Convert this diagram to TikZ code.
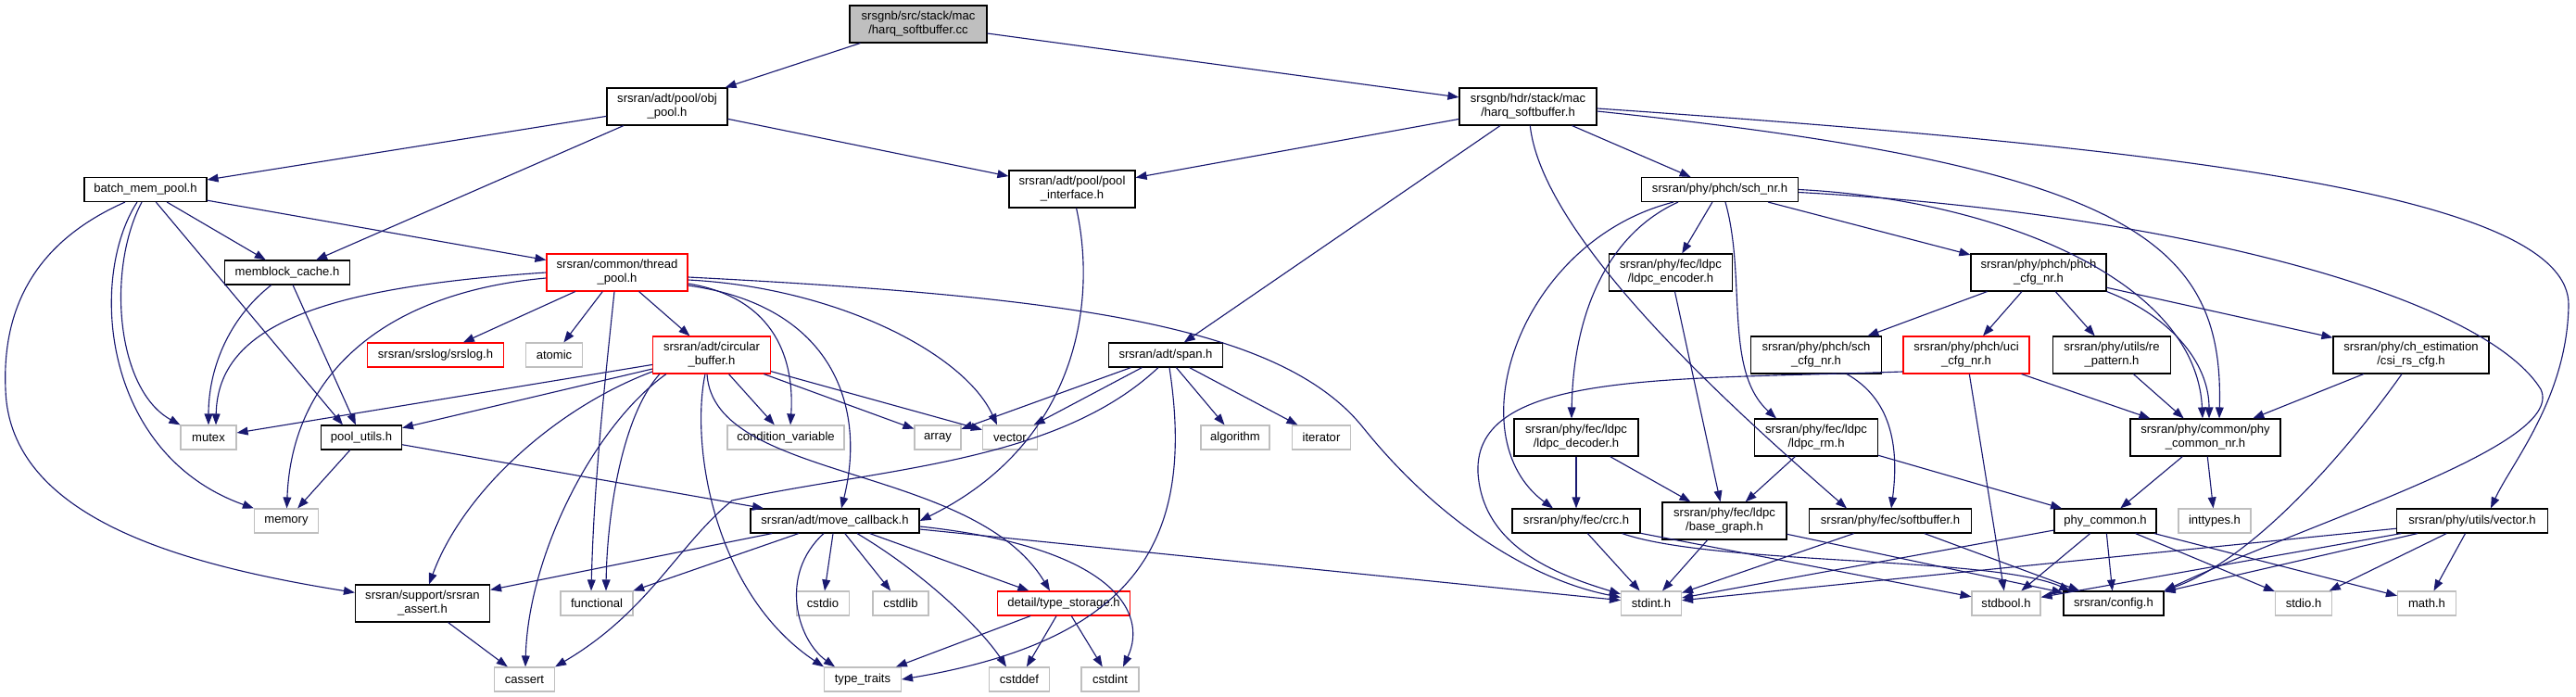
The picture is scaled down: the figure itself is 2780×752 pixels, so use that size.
\documentclass[tikz,border=0pt]{standalone}
\usepackage{fontspec}
\setmainfont{Liberation Sans}
\usetikzlibrary{arrows.meta,calc,positioning}
\definecolor{edgeblue}{RGB}{25,25,112}
\definecolor{boxgray}{RGB}{191,191,191}
\tikzset{
  file/.style={draw=black, line width=0.8pt, fill=white, inner sep=0pt, align=center,
    font=\fontsize{9.3}{10.6}\selectfont},
  sysfile/.style={file, draw=boxgray},
  cutfile/.style={file, draw=red},
  rootfile/.style={file, fill=boxgray},
  boxsize/.style 2 args={minimum width=#1*0.25mm, minimum height=#2*0.25mm},
  dep/.style={-{Triangle[length=3mm, width=2.2mm]}, edgeblue, line width=0.8pt},
}

\begin{document}
\begin{tikzpicture}[x=0.25mm, y=-0.25mm]
  \useasboundingbox (0,0) rectangle (2780,752);

  % Files, row by row
  \node[rootfile, boxsize={148}{40}] (root) at (991,26) {srsgnb/src/stack/mac\\/harq\_softbuffer.cc};
  \node[file, boxsize={130}{40}] (objpool) at (720,115) {srsran/adt/pool/obj\\\_pool.h};
  \node[file, boxsize={148}{40}] (harqh) at (1649,115) {srsgnb/hdr/stack/mac\\/harq\_softbuffer.h};

  \node[file, boxsize={132}{26}] (batch) at (157,204.5) {batch\_mem\_pool.h};
  \node[file, boxsize={136}{40}] (poolif) at (1157,204) {srsran/adt/pool/pool\\\_interface.h};
  \node[file, boxsize={169}{26}] (schnr) at (1856,204.5) {srsran/phy/phch/sch\_nr.h};

  \node[file, boxsize={135}{26}] (memblock) at (310,294) {memblock\_cache.h};
  \node[cutfile, boxsize={152}{40}] (threadpool) at (666,294) {srsran/common/thread\\\_pool.h};
  \node[file, boxsize={133}{40}] (ldpcenc) at (1803,294) {srsran/phy/fec/ldpc\\/ldpc\_encoder.h};
  \node[file, boxsize={146}{40}] (phchcfg) at (2200,294) {srsran/phy/phch/phch\\\_cfg\_nr.h};

  \node[cutfile, boxsize={147}{26}] (srslog) at (470,383) {srsran/srslog/srslog.h};
  \node[sysfile, boxsize={61}{26}] (atomic) at (598,383) {atomic};
  \node[cutfile, boxsize={127}{40}] (circbuf) at (768,383) {srsran/adt/circular\\\_buffer.h};
  \node[file, boxsize={123}{26}] (span) at (1258,383) {srsran/adt/span.h};
  \node[file, boxsize={141}{40}] (schcfg) at (1960,383) {srsran/phy/phch/sch\\\_cfg\_nr.h};
  \node[cutfile, boxsize={136}{40}] (ucicfg) at (2122,383) {srsran/phy/phch/uci\\\_cfg\_nr.h};
  \node[file, boxsize={127}{40}] (repattern) at (2279,383) {srsran/phy/utils/re\\\_pattern.h};
  \node[file, boxsize={168}{40}] (csirs) at (2602,383) {srsran/phy/ch\_estimation\\/csi\_rs\_cfg.h};

  \node[sysfile, boxsize={60}{26}] (mutex) at (225,472) {mutex};
  \node[file, boxsize={87}{26}] (poolutils) at (390,472) {pool\_utils.h};
  \node[sysfile, boxsize={126}{26}] (condvar) at (848,472) {condition\_variable};
  \node[sysfile, boxsize={50}{26}] (array) at (1012,472) {array};
  \node[sysfile, boxsize={59}{26}] (vector) at (1090,472) {vector};
  \node[sysfile, boxsize={74}{26}] (algorithm) at (1333,472) {algorithm};
  \node[sysfile, boxsize={63}{26}] (iterator) at (1426,472) {iterator};
  \node[file, boxsize={134}{40}] (ldpcdec) at (1701,472) {srsran/phy/fec/ldpc\\/ldpc\_decoder.h};
  \node[file, boxsize={133}{40}] (ldpcrm) at (1960,472) {srsran/phy/fec/ldpc\\/ldpc\_rm.h};
  \node[file, boxsize={162}{40}] (phycomnr) at (2380,472) {srsran/phy/common/phy\\\_common\_nr.h};

  \node[sysfile, boxsize={69}{26}] (memory) at (309,562) {memory};
  \node[file, boxsize={182}{26}] (movecb) at (901,562) {srsran/adt/move\_callback.h};
  \node[file, boxsize={138}{26}] (crc) at (1701,562) {srsran/phy/fec/crc.h};
  \node[file, boxsize={134}{40}] (basegraph) at (1861,562) {srsran/phy/fec/ldpc\\/base\_graph.h};
  \node[file, boxsize={175}{26}] (softbuf) at (2040,562) {srsran/phy/fec/softbuffer.h};
  \node[file, boxsize={110}{26}] (phycom) at (2272,562) {phy\_common.h};
  \node[sysfile, boxsize={78}{26}] (inttypes) at (2390,562) {inttypes.h};
  \node[file, boxsize={163}{26}] (vectorh) at (2668,562) {srsran/phy/utils/vector.h};

  \node[file, boxsize={145}{40}] (assert) at (456,651) {srsran/support/srsran\\\_assert.h};
  \node[sysfile, boxsize={78}{26}] (functional) at (644,651) {functional};
  \node[sysfile, boxsize={57}{26}] (cstdio) at (888,651) {cstdio};
  \node[sysfile, boxsize={60}{26}] (cstdlib) at (972,651) {cstdlib};
  \node[cutfile, boxsize={143}{26}] (typestor) at (1148,651) {detail/type\_storage.h};
  \node[sysfile, boxsize={65}{26}] (stdint) at (1782,651) {stdint.h};
  \node[sysfile, boxsize={74}{26}] (stdbool) at (2165,651) {stdbool.h};
  \node[file, boxsize={108}{26}] (config) at (2281,651) {srsran/config.h};
  \node[sysfile, boxsize={61}{26}] (stdio) at (2486,651) {stdio.h};
  \node[sysfile, boxsize={63}{26}] (math) at (2619,651) {math.h};

  \node[sysfile, boxsize={65}{26}] (cassert) at (566,733) {cassert};
  \node[sysfile, boxsize={83}{26}] (typetraits) at (931,733) {type\_traits};
  \node[sysfile, boxsize={65}{26}] (cstddef) at (1100,733) {cstddef};
  \node[sysfile, boxsize={62}{26}] (cstdint) at (1198,733) {cstdint};

  % harq_softbuffer.cc and its headers
  \draw[dep] (root) -- (objpool);
  \draw[dep] (root) -- (harqh);
  \draw[dep] (objpool) -- (batch);
  \draw[dep] (objpool) -- (memblock);
  \draw[dep] (objpool) -- (poolif);
  \draw[dep] (harqh) -- (poolif);
  \draw[dep] (harqh) -- (span);
  \draw[dep] (harqh) -- (schnr);
  \draw[dep] (harqh) .. controls (1665,260) and (1880,450) .. ($(softbuf.north)+(-47,0)$);
  \draw[dep] ($(harqh.east)+(0,5)$) .. controls (2300,180) and (2400,260) .. ($(phycomnr.north)+(15,0)$);
  \draw[dep] ($(harqh.east)+(0,2)$) .. controls (2350,160) and (2775,210) .. (2772,330)
    .. controls (2770,430) and (2710,500) .. ($(vectorh.north)+(20,0)$);

  % sch_nr.h
  \draw[dep] (schnr) -- (ldpcenc);
  \draw[dep] ($(schnr.south)+(-45,0)$) .. controls (1740,250) and (1698,330) .. ($(ldpcdec.north)+(-5,0)$);
  \draw[dep] ($(schnr.south)+(-50,0)$) .. controls (1640,260) and (1570,470) .. ($(crc.north)+(-25,0)$);
  \draw[dep] ($(schnr.south)+(6,0)$) .. controls (1885,300) and (1860,400) .. ($(ldpcrm.north)+(-43,0)$);
  \draw[dep] (schnr) -- (phchcfg);
  \draw[dep] (schnr.east) .. controls (2150,215) and (2370,300) .. ($(phycomnr.north)+(-3,0)$);
  \draw[dep] ($(schnr.east)+(0,3)$) .. controls (2350,230) and (2680,320) .. (2742,420)
    .. controls (2770,480) and (2500,560) .. (config.north east);

  % phch_cfg_nr.h and friends
  \draw[dep] (phchcfg) -- (schcfg);
  \draw[dep] (phchcfg) -- (ucicfg);
  \draw[dep] (phchcfg) -- (repattern);
  \draw[dep] (phchcfg.south east) .. controls (2340,340) and (2384,390) .. ($(phycomnr.north)+(4,0)$);
  \draw[dep] (phchcfg) -- (csirs);
  \draw[dep] (ucicfg) -- (phycomnr);
  \draw[dep] (ucicfg) -- (stdbool);
  \draw[dep] ($(ucicfg.west)+(0,18)$) .. controls (1800,410) and (1590,400) .. (1595,510)
    .. controls (1600,590) and (1680,620) .. (stdint);
  \draw[dep] (repattern) -- (phycomnr);
  \draw[dep] (csirs) -- (phycomnr);
  \draw[dep] ($(csirs.south)+(-10,0)$) .. controls (2545,470) and (2440,600) .. (config.north east);
  \draw[dep] ($(schcfg.south)+(33,0)$) .. controls (2040,430) and (2050,480) .. ($(softbuf.north)+(1,0)$);

  % fec headers
  \draw[dep] (ldpcenc) -- (basegraph);
  \draw[dep] (ldpcdec) -- (crc);
  \draw[dep] (ldpcdec) -- (basegraph);
  \draw[dep] (ldpcrm) -- (basegraph);
  \draw[dep] (ldpcrm) -- (phycom);
  \draw[dep] (crc) -- (stdint);
  \draw[dep] (crc) -- (stdbool);
  \draw[dep] ($(crc.south east)+(-20,0)$) .. controls (1850,610) and (2150,600) .. ($(config.north west)+(8,0)$);
  \draw[dep] (basegraph) -- (stdint);
  \draw[dep] (basegraph) -- (config);
  \draw[dep] (softbuf) -- (stdint);
  \draw[dep] (softbuf) -- (config);

  % phy_common_nr.h, phy_common.h, vector.h
  \draw[dep] (phycomnr) -- (phycom);
  \draw[dep] (phycomnr) -- (inttypes);
  \draw[dep] (phycom) -- (stdint);
  \draw[dep] (phycom) -- (stdbool);
  \draw[dep] (phycom) -- (config);
  \draw[dep] (phycom) -- (stdio);
  \draw[dep] (phycom) -- (math);
  \draw[dep] (vectorh) -- (stdint);
  \draw[dep] (vectorh) -- (stdbool);
  \draw[dep] (vectorh) -- (config);
  \draw[dep] (vectorh) -- (stdio);
  \draw[dep] (vectorh) -- (math);

  % batch_mem_pool.h and memblock_cache.h
  \draw[dep] ($(batch.south)+(-22,0)$) .. controls (40,260) and (2,330) .. (6,420)
    .. controls (10,560) and (200,610) .. (assert);
  \draw[dep] ($(batch.south)+(-9,0)$) .. controls (95,300) and (110,490) .. (memory.north west);
  \draw[dep] ($(batch.south)+(-4,0)$) .. controls (115,290) and (125,420) .. (mutex.north west);
  \draw[dep] (batch) -- ($(poolutils.north)+(-20,0)$);
  \draw[dep] (batch) -- (memblock);
  \draw[dep] (batch) -- (threadpool);
  \draw[dep] (memblock) .. controls (245,345) and (225,400) .. (mutex);
  \draw[dep] (memblock) -- (poolutils);
  \draw[dep] (poolutils) -- (memory);
  \draw[dep] (poolutils) -- (movecb);

  % thread_pool.h
  \draw[dep] (threadpool.west) .. controls (350,310) and (235,350) .. ($(mutex.north)+(8,0)$);
  \draw[dep] ($(threadpool.west)+(0,6)$) .. controls (420,315) and (315,400) .. (memory);
  \draw[dep] (threadpool) -- (srslog);
  \draw[dep] (threadpool) -- (atomic);
  \draw[dep] (threadpool) -- (circbuf);
  \draw[dep] ($(threadpool.south)+(-3,0)$) .. controls (652,420) and (641,520) .. ($(functional.north)+(-6,0)$);
  \draw[dep] ($(threadpool.east)+(0,12)$) .. controls (830,320) and (858,380) .. ($(condvar.north)+(5,0)$);
  \draw[dep] ($(threadpool.east)+(0,8)$) .. controls (900,310) and (1040,380) .. ($(vector.north)+(-14,0)$);
  \draw[dep] ($(threadpool.east)+(0,14)$) .. controls (900,330) and (935,440) .. ($(movecb.north)+(7,0)$);
  \draw[dep] ($(threadpool.east)+(0,5)$) .. controls (1150,320) and (1380,350) .. (1470,460)
    .. controls (1550,560) and (1650,625) .. (stdint);

  % circular_buffer.h
  \draw[dep] (circbuf) -- (mutex);
  \draw[dep] (circbuf) -- (poolutils);
  \draw[dep] ($(circbuf.west)+(0,18)$) .. controls (600,440) and (500,530) .. ($(assert.north)+(7,0)$);
  \draw[dep] ($(circbuf.south west)+(15,0)$) .. controls (640,460) and (570,600) .. ($(cassert.north)+(1,0)$);
  \draw[dep] ($(circbuf.south west)+(8,0)$) .. controls (670,450) and (655,560) .. ($(functional.north)+(10,0)$);
  \draw[dep] (circbuf) -- (condvar);
  \draw[dep] (circbuf) -- (array);
  \draw[dep] (circbuf) -- (vector);
  \draw[dep] ($(circbuf.south)+(-7,0)$) .. controls (745,480) and (770,640) .. (typetraits.north west);
  \draw[dep] ($(circbuf.south)+(-5,0)$) .. controls (770,520) and (1050,500) .. ($(typestor.north)+(-15,0)$);

  % span.h and pool_interface.h
  \draw[dep] (span) -- (array);
  \draw[dep] (span) -- (vector);
  \draw[dep] (span) -- (algorithm);
  \draw[dep] (span) -- (iterator);
  \draw[dep] ($(span.south)+(-8,0)$) .. controls (1140,500) and (950,505) .. (790,540)
    .. controls (730,590) and (700,660) .. (cassert.north east);
  \draw[dep] ($(span.south)+(4,0)$) .. controls (1290,580) and (1230,690) .. (typetraits.east);
  \draw[dep] (poolif) .. controls (1185,330) and (1160,480) .. (movecb.east);

  % move_callback.h and below
  \draw[dep] (movecb) -- (assert);
  \draw[dep] (movecb) -- (functional);
  \draw[dep] ($(movecb.south)+(-12,0)$) .. controls (840,620) and (860,690) .. ($(typetraits.north)+(-30,0)$);
  \draw[dep] (movecb) -- (cstdio);
  \draw[dep] (movecb) -- (cstdlib);
  \draw[dep] ($(movecb.south)+(24,0)$) .. controls (1000,620) and (1060,680) .. ($(cstddef.north)+(-14,0)$);
  \draw[dep] (movecb) -- (typestor);
  \draw[dep] ($(movecb.east)+(0,6)$) .. controls (1200,590) and (1240,660) .. ($(cstdint.north)+(14,0)$);
  \draw[dep] ($(movecb.east)+(0,9)$) -- (stdint);
  \draw[dep] (typestor) -- (typetraits);
  \draw[dep] (typestor) -- (cstddef);
  \draw[dep] (typestor) -- (cstdint);
  \draw[dep] (assert) -- (cassert);
\end{tikzpicture}
\end{document}
